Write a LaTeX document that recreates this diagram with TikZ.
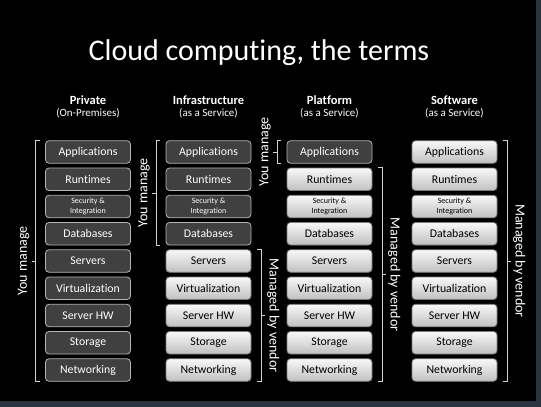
\documentclass[tikz,border=0pt]{standalone}
\usepackage{fontspec}
\setmainfont{Carlito}[Ligatures=NoCommon]
\usetikzlibrary{calc}
\definecolor{slide}{HTML}{000000}
\definecolor{frame}{HTML}{2A3440}
\definecolor{darkfill}{HTML}{404040}
\definecolor{darkrule}{HTML}{B4B4B4}
\definecolor{lightrule}{HTML}{7A7A7A}
\definecolor{lighttop}{HTML}{F8F8F8}
\definecolor{lightbot}{HTML}{C0C0C0}
\definecolor{bracket}{HTML}{D2D2D2}
\tikzset{
  layer/.style={
    rounded corners=3.5pt, line width=0.8pt, minimum width=85pt,
    minimum height=22.5pt, inner sep=0pt, align=center,
    font=\fontsize{11.8}{13}\selectfont,
  },
  own/.style={layer, draw=darkrule, fill=darkfill, text=white},
  vendor/.style={layer, draw=lightrule, top color=lighttop,
                 bottom color=lightbot, text=black},
  twoline/.style={font=\fontsize{8}{9.5}\selectfont},
  %
  head/.style={text=white, font=\bfseries\fontsize{12.5}{14}\selectfont, inner sep=0pt},
  sub/.style={text=white, font=\fontsize{11}{13}\selectfont, inner sep=0pt},
  side/.style={text=white, font=\fontsize{14}{16}\selectfont, inner sep=2pt},
  brk/.style={draw=bracket, line width=0.7pt},
}

\begin{document}
\begin{tikzpicture}[x=1pt, y=-1pt]

\fill[frame] (0,0) rectangle (541,407);
\fill[slide] (0,0) rectangle (535.5,400.5);

\node[text=white, font=\fontsize{30}{34}\selectfont, anchor=base] (title)
  at (259,60) {Cloud computing, the terms};

% =========================================================================
\begin{scope}[xshift=88pt]
  \node[head] (h1) at (0,100) {Private};
  \node[sub] (s1) at (0,113) {(On-Premises)};
  \node[own] (a1) at (0,152)    {Applications};
  \node[own] (a2) at (0,179.25) {Runtimes};
  \node[own, twoline] (a3) at (0,206.5) {Security \&\\Integration};
  \node[own] (a4) at (0,233.75) {Databases};
  \node[own] (a5) at (0,261)    {Servers};
  \node[own] (a6) at (0,288.25) {Virtualization};
  \node[own] (a7) at (0,315.5)  {Server HW};
  \node[own] (a8) at (0,342.75) {Storage};
  \node[own] (a9) at (0,370)    {Networking};
\end{scope}

\draw[brk] ([xshift=-5.5pt]a1.north west) -- ++(-4,0) |- ([xshift=-5.5pt]a9.south west);
\draw[brk] ($(a1.north west)!0.5!(a9.south west)+(-9.5,0)$) -- ++(-4,0) coordinate (ta);
\node[side, rotate=90, anchor=south] (ya) at (ta) {You manage};

% =========================================================================
\begin{scope}[xshift=208.5pt]
  \node[head] (h2) at (0,100) {Infrastructure};
  \node[sub] (s2) at (0,113) {(as a Service)};
  \node[own] (b1) at (0,152)    {Applications};
  \node[own] (b2) at (0,179.25) {Runtimes};
  \node[own, twoline] (b3) at (0,206.5) {Security \&\\Integration};
  \node[own] (b4) at (0,233.75) {Databases};
  \node[vendor] (b5) at (0,261)    {Servers};
  \node[vendor] (b6) at (0,288.25) {Virtualization};
  \node[vendor] (b7) at (0,315.5)  {Server HW};
  \node[vendor] (b8) at (0,342.75) {Storage};
  \node[vendor] (b9) at (0,370)    {Networking};
\end{scope}

\draw[brk] ([xshift=-5.5pt]b1.north west) -- ++(-4,0) |- ([xshift=-5.5pt]b4.south west);
\draw[brk] ($(b1.north west)!0.5!(b4.south west)+(-9.5,0)$) -- ++(-4,0) coordinate (tb);
\node[side, rotate=90, anchor=south] (yb) at (tb) {You manage};

\draw[brk] ([xshift=5.5pt]b5.north east) -- ++(4,0) |- ([xshift=5.5pt]b9.south east);
\draw[brk] ($(b5.north east)!0.5!(b9.south east)+(9.5,0)$) -- ++(4,0) coordinate (vb);
\node[side, rotate=-90, anchor=south] (mb) at (vb) {Managed by vendor};

% =========================================================================
\begin{scope}[xshift=329.5pt]
  \node[head] (h3) at (0,100) {Platform};
  \node[sub] (s3) at (0,113) {(as a Service)};
  \node[own] (c1) at (0,152)    {Applications};
  \node[vendor] (c2) at (0,179.25) {Runtimes};
  \node[vendor, twoline] (c3) at (0,206.5) {Security \&\\Integration};
  \node[vendor] (c4) at (0,233.75) {Databases};
  \node[vendor] (c5) at (0,261)    {Servers};
  \node[vendor] (c6) at (0,288.25) {Virtualization};
  \node[vendor] (c7) at (0,315.5)  {Server HW};
  \node[vendor] (c8) at (0,342.75) {Storage};
  \node[vendor] (c9) at (0,370)    {Networking};
\end{scope}

\draw[brk] ([xshift=-5.5pt]c1.north west) -- ++(-4,0) |- ([xshift=-5.5pt]c1.south west);
\draw[brk] ($(c1.north west)!0.5!(c1.south west)+(-9.5,0)$) -- ++(-4,0) coordinate (tc);
\node[side, rotate=90, anchor=south] (yc) at (tc) {You manage};

\draw[brk] ([xshift=5.5pt]c2.north east) -- ++(4,0) |- ([xshift=5.5pt]c9.south east);
\draw[brk] ($(c2.north east)!0.5!(c9.south east)+(9.5,0)$) -- ++(4,0) coordinate (vc);
\node[side, rotate=-90, anchor=south] (mc) at (vc) {Managed by vendor};

% =========================================================================
\begin{scope}[xshift=454.5pt]
  \node[head] (h4) at (0,100) {Software};
  \node[sub] (s4) at (0,113) {(as a Service)};
  \node[vendor] (d1) at (0,152)    {Applications};
  \node[vendor] (d2) at (0,179.25) {Runtimes};
  \node[vendor, twoline] (d3) at (0,206.5) {Security \&\\Integration};
  \node[vendor] (d4) at (0,233.75) {Databases};
  \node[vendor] (d5) at (0,261)    {Servers};
  \node[vendor] (d6) at (0,288.25) {Virtualization};
  \node[vendor] (d7) at (0,315.5)  {Server HW};
  \node[vendor] (d8) at (0,342.75) {Storage};
  \node[vendor] (d9) at (0,370)    {Networking};
\end{scope}

\draw[brk] ([xshift=5.5pt]d1.north east) -- ++(4,0) |- ([xshift=5.5pt]d9.south east);
\draw[brk] ($(d1.north east)!0.5!(d9.south east)+(9.5,0)$) -- ++(4,0) coordinate (vd);
\node[side, rotate=-90, anchor=south] (md) at (vd) {Managed by vendor};

\end{tikzpicture}
\end{document}
